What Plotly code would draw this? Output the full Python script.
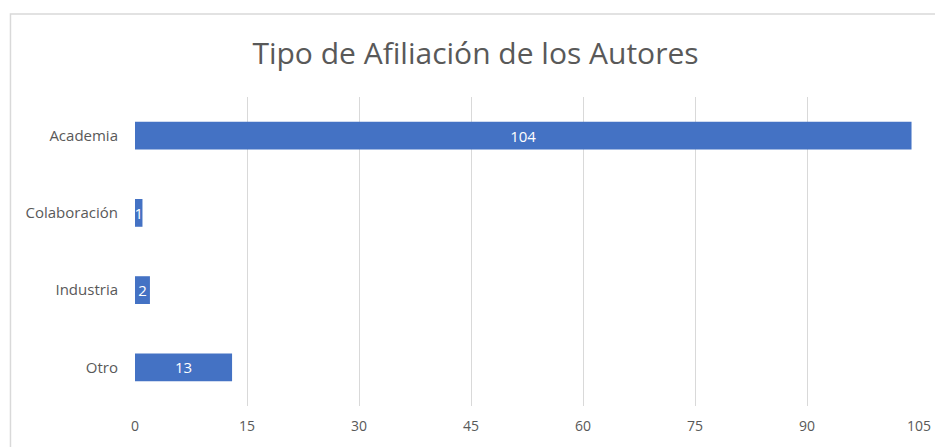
import plotly.graph_objects as go

categories = ["Academia", "Colaboración", "Industria", "Otro"]
values = [104, 1, 2, 13]
tick_vals = [0, 15, 30, 45, 60, 75, 90, 105]
title_text = "Tipo de Afiliación de los Autores"

W, H = 935, 439
L, T = 127, 89
PW, PH = 787, 313

fig = go.Figure()
fig.add_trace(go.Bar(
    y=categories,
    x=values,
    orientation="h",
    marker=dict(color="#4472C4", line=dict(width=0)),
    text=[str(v) for v in values],
    textposition="inside",
    insidetextanchor="middle",
    constraintext="none",
    textfont=dict(color="white", size=15, family="Open Sans"),
    cliponaxis=False,
    width=0.36,
))

fig.update_layout(
    width=W, height=H,
    margin=dict(l=L, r=W - L - PW, t=T, b=H - T - PH, pad=0),
    paper_bgcolor="white",
    plot_bgcolor="white",
    showlegend=False,
    title=dict(text=title_text, x=(135 + 787 / 2 - 8 - 0) / W if False else 0.5, xanchor="center",
               y=1 - 45 / H, yanchor="middle",
               font=dict(size=30, color="#595959", family="Open Sans")),
    xaxis=dict(range=[0, 105], tickvals=tick_vals, showgrid=True, gridcolor="#D9D9D9", gridwidth=1.3,
               zeroline=False, showline=False, ticks="", ticklen=0,
               tickfont=dict(size=14, color="#595959", family="Open Sans")),
    yaxis=dict(categoryorder="array", categoryarray=categories[::-1], showgrid=False,
               zeroline=False, showline=False, ticks="",
               tickfont=dict(size=15, color="#595959", family="Open Sans")),
    font=dict(family="Open Sans"),
)
fig.update_xaxes(ticklabelstandoff=10)
fig.update_yaxes(ticklabelstandoff=16)

fig.add_shape(type="rect", xref="paper", yref="paper",
              x0=(2 - L) / PW, x1=(W + 20 - L) / PW,
              y0=-(60) / PH, y1=(T + PH - 5 - T) / PH + (T - 5 - PH) / PH * 0 + 0,
              line=dict(color="#D9D9D9", width=1.5), fillcolor="rgba(0,0,0,0)", layer="below")
fig.update_shapes(y1=(T + PH - 5) / PH)

fig.write_html("out.html")
